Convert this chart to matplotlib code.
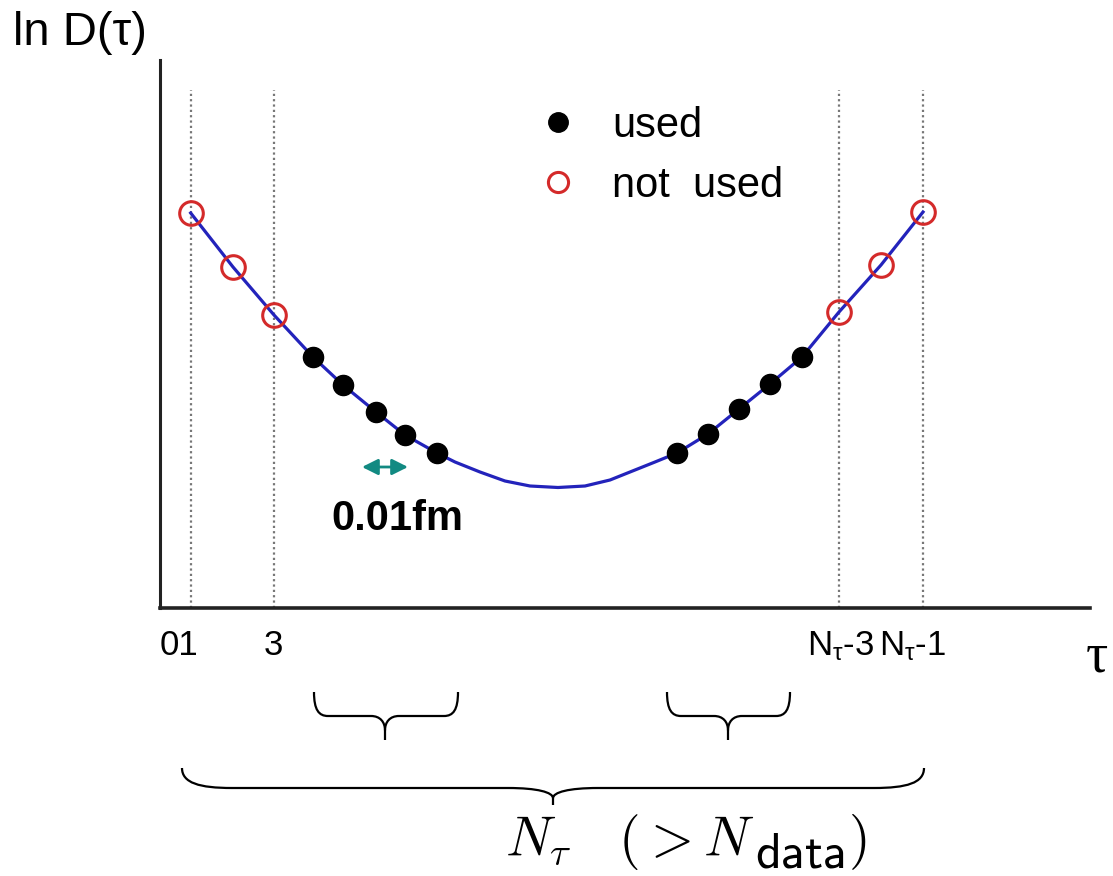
import matplotlib
matplotlib.use("Agg")
import matplotlib.pyplot as plt
from matplotlib.lines import Line2D
from matplotlib.path import Path
from matplotlib.patches import PathPatch
from matplotlib.transforms import Affine2D

plt.rcParams['font.family'] = ['Liberation Sans', 'DejaVu Sans']
plt.rcParams['mathtext.fontset'] = 'custom'
plt.rcParams['mathtext.rm'] = 'Liberation Sans'
plt.rcParams['mathtext.it'] = 'Liberation Sans'

# ---- data (arbitrary units) ----
curve_x = [3.07, 7.3, 11.4, 15.3, 18.3, 21.6, 24.5, 27.7, 29.5, 32.0, 34.5, 37.0, 39.8,
           42.5, 45.0, 47.0, 49.5, 51.7, 54.8, 57.9, 61.0, 64.2, 67.9, 72.1, 76.3]
curve_y = [39.5, 34.1, 29.3, 25.1, 22.3, 19.6, 17.3, 15.5, 14.6, 13.6, 12.7, 12.2, 12.05,
           12.2, 12.8, 13.6, 14.6, 15.5, 17.4, 19.9, 22.4, 25.1, 29.6, 34.3, 39.6]

used_x = [15.33, 18.33, 21.57, 24.5, 27.67, 51.67, 54.83, 57.9, 61.0, 64.17]
used_y = [25.13, 22.3, 19.63, 17.3, 15.47, 15.47, 17.4, 19.87, 22.4, 25.13]

notused_x = [3.07, 7.33, 11.4, 67.93, 72.07, 76.27]
notused_y = [39.47, 34.07, 29.3, 29.63, 34.3, 39.57]

vline_x = [3.07, 11.4, 67.93, 76.27]
tick_pos = [1.9, 11.3, 68.1, 75.3]
tick_labels = ['01', '3', r'N$_{τ}$-3', r'N$_{τ}$-1']

W, H = 1113, 876
fig = plt.figure(figsize=(W / 100, H / 100), dpi=100)
ax = fig.add_axes([160 / W, 268 / H, 930 / W, 548 / H])
ax.set_xlim(0, 93.0)
ax.set_ylim(0, 54.8)

for s in ['top', 'right']:
    ax.spines[s].set_visible(False)
ax.spines['left'].set_linewidth(2.2)
ax.spines['bottom'].set_linewidth(2.6)
ax.spines['left'].set_color('#222222')
ax.spines['bottom'].set_color('#222222')
ax.set_xticks([])
ax.set_yticks([])

for xv in vline_x:
    ax.plot([xv, xv], [0, 51.8], color='#777777', lw=1.6, ls=(0, (1, 1.4)), zorder=1)

ax.plot(curve_x, curve_y, color='#2323bb', lw=2.3, zorder=2)
ax.plot(used_x, used_y, 'o', color='black', ms=14.5, zorder=3)
ax.plot(notused_x, notused_y, 'o', mfc='none', mec='#d42a2a', ms=17, mew=2.2, zorder=3)

# legend
handles = [Line2D([], [], marker='o', ls='', color='black', ms=14),
           Line2D([], [], marker='o', ls='', mfc='none', mec='#d42a2a', ms=14.5, mew=2.2)]
ax.legend(handles, ['used', 'not  used'], loc='upper left',
          bbox_to_anchor=(537 / W, 1 - 106 / H), bbox_transform=fig.transFigure,
          frameon=False, fontsize=30, borderpad=0, borderaxespad=0,
          handlelength=1.0, handletextpad=0.8, labelspacing=0.47)

# tick labels
for xp, lab in zip(tick_pos, tick_labels):
    ax.text(xp, -4.7, lab, ha='center', va='baseline', fontsize=25, clip_on=False)
ax.text(92.6, -6.4, 'τ', ha='left', va='baseline', fontsize=40,
        family='Liberation Serif', clip_on=False)

# spacing annotation
ax.annotate('', xy=(24.8, 14.1), xytext=(20.2, 14.1),
            arrowprops=dict(arrowstyle='<|-|>', color='#128a82', lw=2.0,
                            mutation_scale=24, shrinkA=0, shrinkB=0))
ax.text(23.7, 7.8, '0.01fm', ha='center', va='baseline', fontsize=30,
        fontweight='bold')

# y label
fig.text(13 / W, 1 - 45 / H, 'ln D(τ)', ha='left', va='baseline', fontsize=34)

# braces (drawn in pixel coordinates, origin top-left)
pix = Affine2D().scale(1 / W, -1 / H).translate(0, 1) + fig.transFigure


def brace(x0, x1, xc, y0, y1, y2, qe, qc, lw=1.6):
    verts = [(x0, y0),
             (x0, y0 + 0.75 * (y1 - y0)), (x0 + 0.35 * qe, y1), (x0 + qe, y1),
             (xc - qc, y1),
             (xc - 0.35 * qc, y1), (xc, y1 + 0.25 * (y2 - y1)), (xc, y1 + 0.6 * (y2 - y1)),
             (xc, y2),
             (xc, y1 + 0.6 * (y2 - y1)),
             (xc, y1 + 0.25 * (y2 - y1)), (xc + 0.35 * qc, y1), (xc + qc, y1),
             (x1 - qe, y1),
             (x1 - 0.35 * qe, y1), (x1, y0 + 0.75 * (y1 - y0)), (x1, y0)]
    codes = [Path.MOVETO,
             Path.CURVE4, Path.CURVE4, Path.CURVE4,
             Path.LINETO,
             Path.CURVE4, Path.CURVE4, Path.CURVE4,
             Path.LINETO,
             Path.MOVETO,
             Path.CURVE4, Path.CURVE4, Path.CURVE4,
             Path.LINETO,
             Path.CURVE4, Path.CURVE4, Path.CURVE4]
    p = PathPatch(Path(verts, codes), transform=pix, fill=False, lw=lw,
                  color='black', clip_on=False, capstyle='butt')
    fig.add_artist(p)


brace(314, 458, 385, 692, 716, 740, 14, 14)
brace(667, 790, 728, 692, 716, 740, 14, 14)
brace(182, 924, 553, 768, 788, 805, 50, 45)

# bottom formula: N_tau (> N_data), with a full-size lowered "data"
renderer = fig.canvas.get_renderer()
t1 = fig.text(505 / W, 1 - 856 / H, r'$N_\tau\ \ \ (> N$', ha='left', va='baseline',
              fontsize=40, math_fontfamily='cm')
bb1 = t1.get_window_extent(renderer)
t2 = fig.text((bb1.x1 + 1) / W, 1 - 867 / H, r'$\mathsf{data}$', ha='left',
              va='baseline', fontsize=36, math_fontfamily='cm')
bb2 = t2.get_window_extent(renderer)
fig.text((bb2.x1 + 3) / W, 1 - 856 / H, r'$)$', ha='left', va='baseline',
         fontsize=40, math_fontfamily='cm')

fig.savefig('out.png', dpi=100)
